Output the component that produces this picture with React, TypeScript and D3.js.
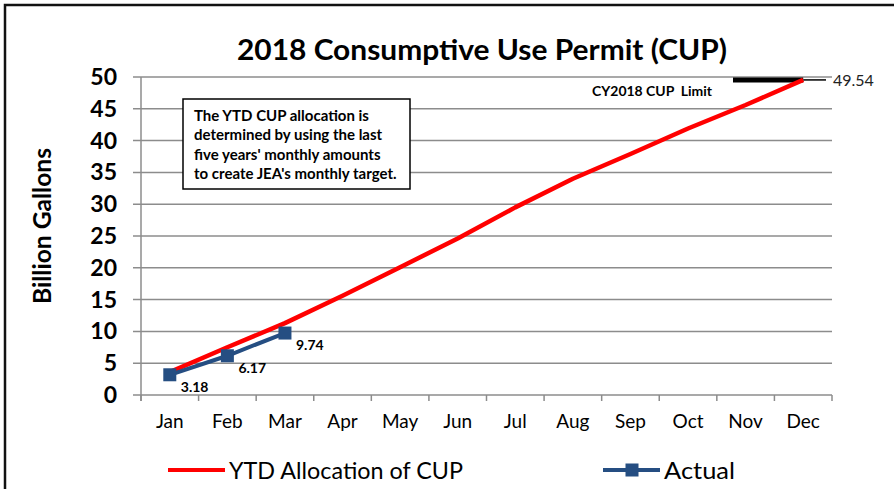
import React from "react";
import * as d3 from "d3";

const months = ["Jan", "Feb", "Mar", "Apr", "May", "Jun", "Jul", "Aug", "Sep", "Oct", "Nov", "Dec"];
const allocation = [3.6, 7.5, 11.3, 15.6, 20.1, 24.6, 29.5, 34.0, 37.9, 41.9, 45.6, 49.54];
const actual = [3.18, 6.17, 9.74];
const actualLabels = ["3.18", "6.17", "9.74"];
const yTicks = [0, 5, 10, 15, 20, 25, 30, 35, 40, 45, 50];
const limitValue = 49.54;
const limitLabel = "49.54";
const noteLines = [
  "The YTD CUP allocation is",
  "determined by using the last",
  "five years' monthly amounts",
  "to create JEA's monthly target.",
];

const W = 894;
const H = 489;
const FONT = "Lato, 'Open Sans', sans-serif";

export default function App() {
  const x = d3.scaleBand<string>().domain(months).range([141, 832]).padding(0);
  const y = d3.scaleLinear().domain([0, 50]).range([395, 77]);
  const cx = (m: string) => (x(m) as number) + x.bandwidth() / 2;

  const line = d3
    .line<number>()
    .x((_, i) => cx(months[i]))
    .y((d) => y(d));

  const ticksX = d3.range(months.length + 1).map((i) => 141 + i * x.bandwidth());
  const decX = cx("Dec");
  const blue = "#254E82";

  return (
    <div style={{ position: "absolute", left: 0, top: 0 }}>
      <svg width={W} height={H} style={{ display: "block", background: "#fff" }}>
        <rect x={0} y={0} width={W} height={H} fill="#fff" />
        {/* outer frame */}
        <path d={`M5,${H} L5,5 L${W},5`} fill="none" stroke="#111" strokeWidth={2.5} />

        {/* title */}
        <text x={482} y={60} textAnchor="middle" fontFamily={FONT} fontWeight={700} fontSize={29} fill="#000"
          textLength={490} lengthAdjust="spacingAndGlyphs">
          2018 Consumptive Use Permit (CUP)
        </text>

        {/* gridlines & y ticks */}
        {yTicks.map((t) => (
          <g key={t}>
            <line x1={133} x2={832} y1={y(t)} y2={y(t)} stroke="#8c8c8c" strokeWidth={1.5} />
            <text x={117} y={y(t) + 8} textAnchor="end" fontFamily={FONT} fontWeight={700} fontSize={23} fill="#000">
              {t}
            </text>
          </g>
        ))}
        {/* y axis line */}
        <line x1={141} x2={141} y1={77} y2={401} stroke="#8c8c8c" strokeWidth={1.5} />
        {/* x tick marks */}
        {ticksX.map((tx, i) => (
          <line key={i} x1={tx} x2={tx} y1={395} y2={401} stroke="#8c8c8c" strokeWidth={1.5} />
        ))}
        {months.map((m) => (
          <text key={m} x={cx(m)} y={428} textAnchor="middle" fontFamily={FONT} fontSize={19} fill="#000">
            {m}
          </text>
        ))}

        {/* y axis title */}
        <text
          transform={`translate(51,226) rotate(-90)`}
          textAnchor="middle"
          fontFamily={FONT}
          fontWeight={700}
          fontSize={25}
          fill="#000"
          textLength={156}
          lengthAdjust="spacingAndGlyphs"
        >
          Billion Gallons
        </text>

        {/* limit marker */}
        <line x1={733} x2={decX} y1={y(limitValue)} y2={y(limitValue)} stroke="#000" strokeWidth={5} />
        <line x1={decX} x2={826} y1={y(limitValue)} y2={y(limitValue)} stroke="#000" strokeWidth={1.5} />
        <text x={833} y={y(limitValue) + 6} fontFamily={FONT} fontSize={16} fill="#222">
          {limitLabel}
        </text>
        <text x={592} y={96} fontFamily={FONT} fontWeight={700} fontSize={14} fill="#000" xmlSpace="preserve"
          textLength={120} lengthAdjust="spacingAndGlyphs">
          CY2018 CUP  Limit
        </text>

        {/* allocation line */}
        <path d={line(allocation) as string} fill="none" stroke="#FF0000" strokeWidth={4.5} strokeLinejoin="round" />

        {/* actual line */}
        <path d={line(actual) as string} fill="none" stroke={blue} strokeWidth={4} />
        {actual.map((v, i) => (
          <g key={i}>
            <rect x={cx(months[i]) - 6.5} y={y(v) - 6.5} width={13} height={13} fill={blue} />
            <text x={cx(months[i]) + 11} y={y(v) + 17} fontFamily={FONT} fontWeight={700} fontSize={14} fill="#000">
              {actualLabels[i]}
            </text>
          </g>
        ))}

        {/* note box */}
        <rect x={183} y={99} width={227} height={90} fill="#fff" stroke="#000" strokeWidth={1.5} />
        {noteLines.map((l, i) => (
          <text key={i} x={194} y={121 + i * 19.3} fontFamily={FONT} fontWeight={700} fontSize={15} fill="#000">
            {l}
          </text>
        ))}

        {/* legend */}
        <line x1={168} x2={225} y1={470} y2={470} stroke="#FF0000" strokeWidth={4} />
        <text x={229} y={479} fontFamily={FONT} fontSize={23} fill="#000" textLength={234} lengthAdjust="spacingAndGlyphs">
          YTD Allocation of CUP
        </text>
        <line x1={603} x2={660} y1={470} y2={470} stroke={blue} strokeWidth={4} />
        <rect x={625.5} y={463.5} width={13} height={13} fill={blue} />
        <text x={664} y={479} fontFamily={FONT} fontSize={23} fill="#000" textLength={71} lengthAdjust="spacingAndGlyphs">
          Actual
        </text>
      </svg>
    </div>
  );
}
